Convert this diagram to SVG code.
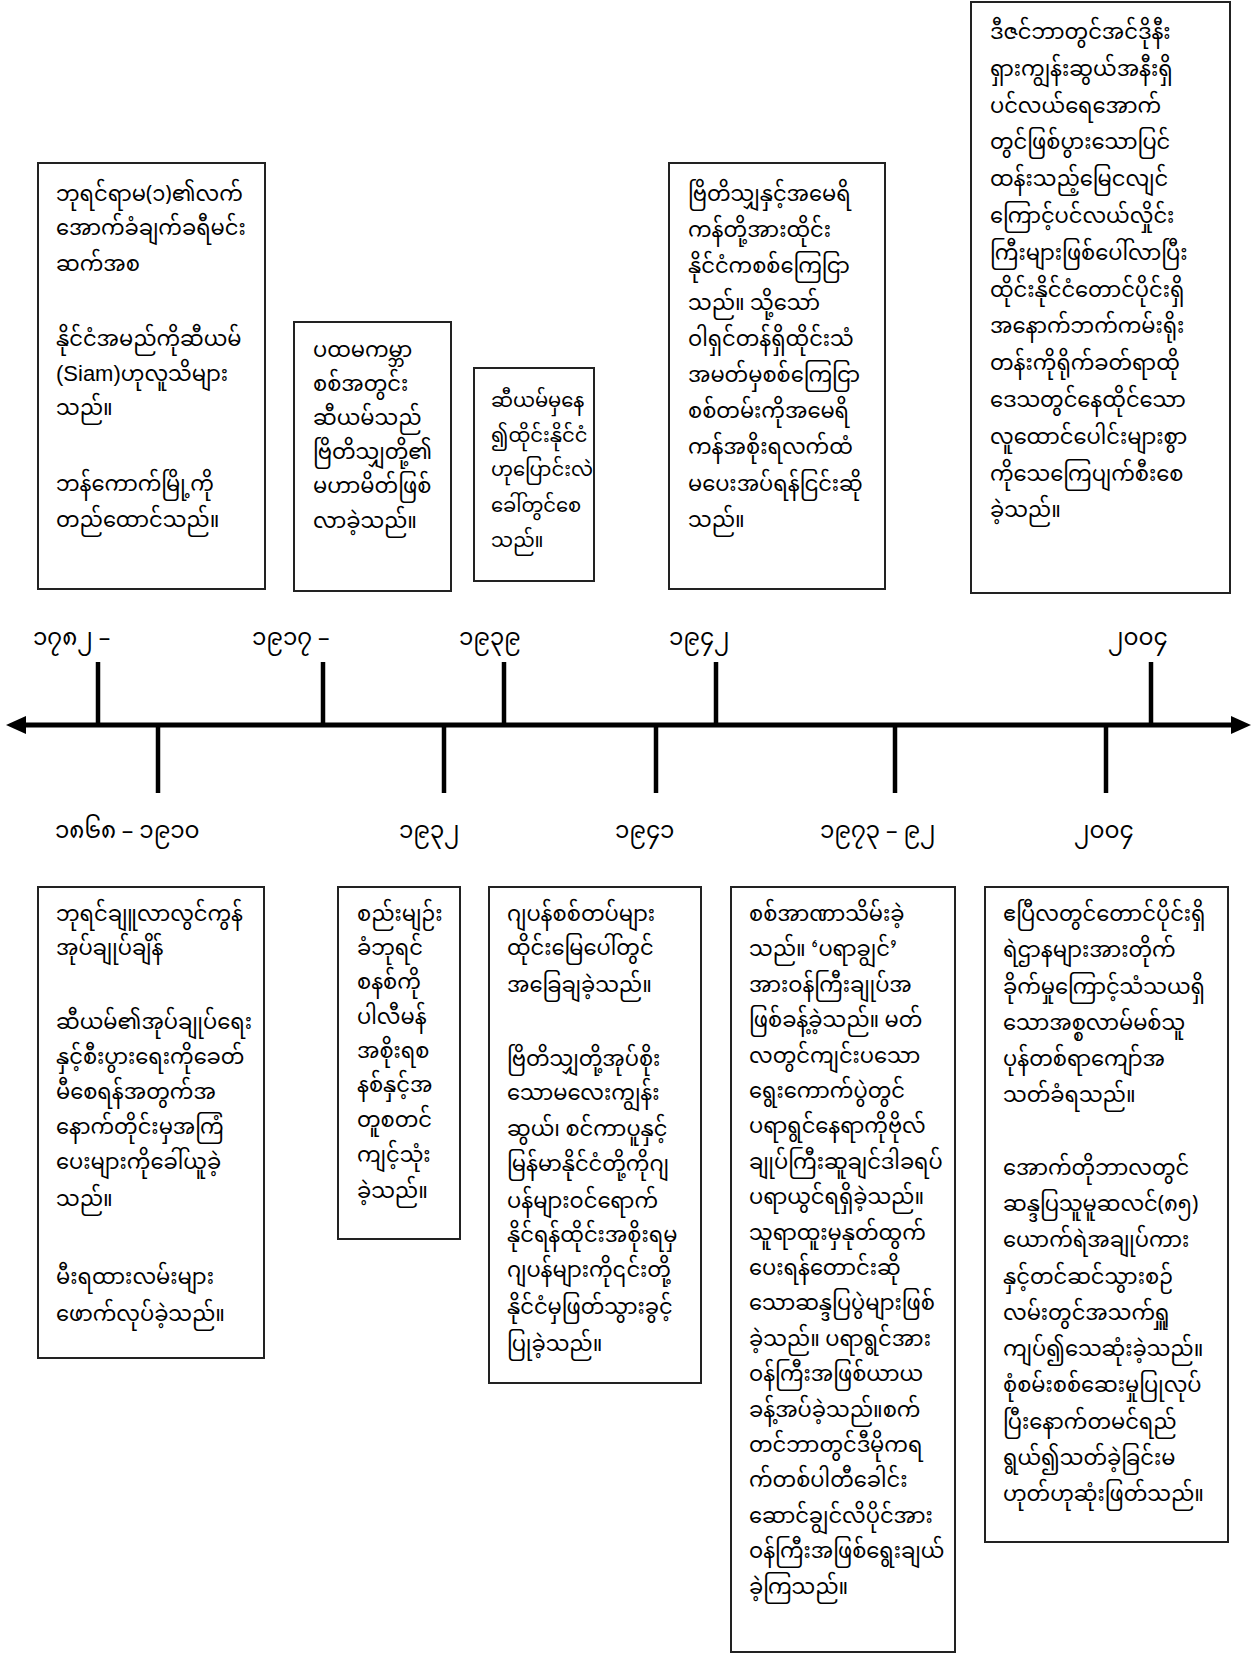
<svg xmlns="http://www.w3.org/2000/svg" width="1257" height="1654" viewBox="0 0 1257 1654">
<defs>
<style>
.box{fill:#fff;stroke:#222;stroke-width:2}
.t{font-family:"Noto Sans Myanmar","Padauk","Myanmar Text","Noto Sans","DejaVu Sans",sans-serif;font-size:21px;fill:#000}
.t20{font-size:19.5px}
.lat{font-family:"Liberation Sans",Arial,sans-serif;font-size:22px}
.lab{font-family:"Noto Sans Myanmar","Padauk","Myanmar Text","Noto Sans","DejaVu Sans",sans-serif;font-size:23px;fill:#000}
.tick{stroke:#000;stroke-width:4.5}
.axis{stroke:#000;stroke-width:5;fill:none}
</style>
<marker id="ah" viewBox="0 0 22 22" refX="2" refY="11" markerWidth="22" markerHeight="22" markerUnits="userSpaceOnUse" orient="auto-start-reverse">
<path d="M0,2 L20,11 L0,20 Z" fill="#000"/>
</marker>
</defs>
<rect width="1257" height="1654" fill="#fff"/>

<g id="connectors">
<line class="axis" x1="24" y1="725" x2="1233" y2="725" marker-start="url(#ah)" marker-end="url(#ah)"/>
<line class="tick" x1="98" y1="662" x2="98" y2="725"/>
<line class="tick" x1="323" y1="662" x2="323" y2="725"/>
<line class="tick" x1="504" y1="662" x2="504" y2="725"/>
<line class="tick" x1="716" y1="662" x2="716" y2="725"/>
<line class="tick" x1="1151" y1="662" x2="1151" y2="725"/>
<line class="tick" x1="158" y1="725" x2="158" y2="793"/>
<line class="tick" x1="444" y1="725" x2="444" y2="793"/>
<line class="tick" x1="656" y1="725" x2="656" y2="793"/>
<line class="tick" x1="895" y1="725" x2="895" y2="793"/>
<line class="tick" x1="1106" y1="725" x2="1106" y2="793"/>
</g>

<g id="label-1782"><text class="lab" x="33" y="645">၁၇၈၂ –</text></g>
<g id="label-1917"><text class="lab" x="252" y="645">၁၉၁၇ –</text></g>
<g id="label-1939"><text class="lab" x="459" y="645">၁၉၃၉</text></g>
<g id="label-1942"><text class="lab" x="669" y="645">၁၉၄၂</text></g>
<g id="label-2004-top"><text class="lab" x="1108" y="645">၂၀၀၄</text></g>
<g id="label-1868"><text class="lab" x="55" y="838">၁၈၆၈ – ၁၉၁၀</text></g>
<g id="label-1932"><text class="lab" x="399" y="838">၁၉၃၂</text></g>
<g id="label-1941"><text class="lab" x="615" y="838">၁၉၄၁</text></g>
<g id="label-1973"><text class="lab" x="820" y="838">၁၉၇၃ – ၉၂</text></g>
<g id="label-2004-bottom"><text class="lab" x="1074" y="838">၂၀၀၄</text></g>

<g id="box-1782">
<rect class="box" x="38" y="163" width="227" height="426"/>
<text class="t">
<tspan x="56" y="201">ဘုရင်ရာမ(၁)၏လက်</tspan>
<tspan x="56" y="235">အောက်ခံချက်ခရီမင်း</tspan>
<tspan x="56" y="271">ဆက်အစ</tspan>
<tspan x="56" y="346">နိုင်ငံအမည်ကိုဆီယမ်</tspan>
<tspan x="56" y="381"><tspan class="lat">(Siam)</tspan>ဟုလူသိများ</tspan>
<tspan x="56" y="415">သည်။</tspan>
<tspan x="56" y="491">ဘန်ကောက်မြို့ကို</tspan>
<tspan x="56" y="527">တည်ထောင်သည်။</tspan>
</text>
</g>

<g id="box-1917">
<rect class="box" x="294" y="322" width="157" height="269"/>
<text class="t">
<tspan x="313" y="357">ပထမကမ္ဘာ</tspan>
<tspan x="313" y="391">စစ်အတွင်း</tspan>
<tspan x="313" y="425">ဆီယမ်သည်</tspan>
<tspan x="313" y="459">ဗြိတိသျှတို့၏</tspan>
<tspan x="313" y="493">မဟာမိတ်ဖြစ်</tspan>
<tspan x="313" y="528">လာခဲ့သည်။</tspan>
</text>
</g>

<g id="box-1939">
<rect class="box" x="474" y="368" width="120" height="213"/>
<text class="t t20">
<tspan x="491" y="407">ဆီယမ်မှနေ</tspan>
<tspan x="491" y="442">၍ထိုင်းနိုင်ငံ</tspan>
<tspan x="491" y="476">ဟုပြောင်းလဲ</tspan>
<tspan x="491" y="512">ခေါ်တွင်စေ</tspan>
<tspan x="491" y="547">သည်။</tspan>
</text>
</g>

<g id="box-1942">
<rect class="box" x="669" y="163" width="216" height="426"/>
<text class="t">
<tspan x="688" y="201">ဗြိတိသျှနှင့်အမေရိ</tspan>
<tspan x="688" y="237">ကန်တို့အားထိုင်း</tspan>
<tspan x="688" y="273">နိုင်ငံကစစ်ကြေငြာ</tspan>
<tspan x="688" y="310">သည်။ သို့သော်</tspan>
<tspan x="688" y="346">ဝါရှင်တန်ရှိထိုင်းသံ</tspan>
<tspan x="688" y="382">အမတ်မှစစ်ကြေငြာ</tspan>
<tspan x="688" y="418">စစ်တမ်းကိုအမေရိ</tspan>
<tspan x="688" y="454">ကန်အစိုးရလက်ထံ</tspan>
<tspan x="688" y="491">မပေးအပ်ရန်ငြင်းဆို</tspan>
<tspan x="688" y="527">သည်။</tspan>
</text>
</g>

<g id="box-2004-top">
<rect class="box" x="971" y="2" width="259" height="591"/>
<text class="t">
<tspan x="990" y="39">ဒီဇင်ဘာတွင်အင်ဒိုနီး</tspan>
<tspan x="990" y="76">ရှားကျွန်းဆွယ်အနီးရှိ</tspan>
<tspan x="990" y="113">ပင်လယ်ရေအောက်</tspan>
<tspan x="990" y="149">တွင်ဖြစ်ပွားသောပြင်</tspan>
<tspan x="990" y="186">ထန်းသည့်မြေငလျင်</tspan>
<tspan x="990" y="223">ကြောင့်ပင်လယ်လှိုင်း</tspan>
<tspan x="990" y="260">ကြီးများဖြစ်ပေါ်လာပြီး</tspan>
<tspan x="990" y="297">ထိုင်းနိုင်ငံတောင်ပိုင်းရှိ</tspan>
<tspan x="990" y="333">အနောက်ဘက်ကမ်းရိုး</tspan>
<tspan x="990" y="370">တန်းကိုရိုက်ခတ်ရာထို</tspan>
<tspan x="990" y="407">ဒေသတွင်နေထိုင်သော</tspan>
<tspan x="990" y="444">လူထောင်ပေါင်းများစွာ</tspan>
<tspan x="990" y="481">ကိုသေကြေပျက်စီးစေ</tspan>
<tspan x="990" y="517">ခဲ့သည်။</tspan>
</text>
</g>

<g id="box-1868">
<rect class="box" x="38" y="887" width="226" height="471"/>
<text class="t">
<tspan x="56" y="921">ဘုရင်ချူလာလွင်ကွန်</tspan>
<tspan x="56" y="955">အုပ်ချုပ်ချိန်</tspan>
<tspan x="56" y="1029">ဆီယမ်၏အုပ်ချုပ်ရေး</tspan>
<tspan x="56" y="1064">နှင့်စီးပွားရေးကိုခေတ်</tspan>
<tspan x="56" y="1099">မီစေရန်အတွက်အ</tspan>
<tspan x="56" y="1134">နောက်တိုင်းမှအကြံ</tspan>
<tspan x="56" y="1169">ပေးများကိုခေါ်ယူခဲ့</tspan>
<tspan x="56" y="1206">သည်။</tspan>
<tspan x="56" y="1284">မီးရထားလမ်းများ</tspan>
<tspan x="56" y="1321">ဖောက်လုပ်ခဲ့သည်။</tspan>
</text>
</g>

<g id="box-1932">
<rect class="box" x="338" y="887" width="122" height="352"/>
<text class="t">
<tspan x="357" y="921">စည်းမျဉ်း</tspan>
<tspan x="357" y="955">ခံဘုရင်</tspan>
<tspan x="357" y="989">စနစ်ကို</tspan>
<tspan x="357" y="1024">ပါလီမန်</tspan>
<tspan x="357" y="1058">အစိုးရစ</tspan>
<tspan x="357" y="1092">နစ်နှင့်အ</tspan>
<tspan x="357" y="1127">တူစတင်</tspan>
<tspan x="357" y="1162">ကျင့်သုံး</tspan>
<tspan x="357" y="1198">ခဲ့သည်။</tspan>
</text>
</g>

<g id="box-1941">
<rect class="box" x="489" y="887" width="212" height="496"/>
<text class="t">
<tspan x="507" y="921">ဂျပန်စစ်တပ်များ</tspan>
<tspan x="507" y="955">ထိုင်းမြေပေါ်တွင်</tspan>
<tspan x="507" y="992">အခြေချခဲ့သည်။</tspan>
<tspan x="507" y="1066">ဗြိတိသျှတို့အုပ်စိုး</tspan>
<tspan x="507" y="1100">သောမလေးကျွန်း</tspan>
<tspan x="507" y="1136">ဆွယ်၊ စင်ကာပူနှင့်</tspan>
<tspan x="507" y="1171">မြန်မာနိုင်ငံတို့ကိုဂျ</tspan>
<tspan x="507" y="1208">ပန်များဝင်ရောက်</tspan>
<tspan x="507" y="1242">နိုင်ရန်ထိုင်းအစိုးရမှ</tspan>
<tspan x="507" y="1277">ဂျပန်များကို၎င်းတို့</tspan>
<tspan x="507" y="1314">နိုင်ငံမှဖြတ်သွားခွင့်</tspan>
<tspan x="507" y="1351">ပြုခဲ့သည်။</tspan>
</text>
</g>

<g id="box-1973">
<rect class="box" x="731" y="887" width="224" height="765"/>
<text class="t">
<tspan x="749" y="921">စစ်အာဏာသိမ်းခဲ့</tspan>
<tspan x="749" y="956">သည်။ ‘ပရာချွင်’</tspan>
<tspan x="749" y="992">အားဝန်ကြီးချုပ်အ</tspan>
<tspan x="749" y="1027">ဖြစ်ခန့်ခဲ့သည်။ မတ်</tspan>
<tspan x="749" y="1063">လတွင်ကျင်းပသော</tspan>
<tspan x="749" y="1098">ရွေးကောက်ပွဲတွင်</tspan>
<tspan x="749" y="1133">ပရာရွင်နေရာကိုဗိုလ်</tspan>
<tspan x="749" y="1169">ချုပ်ကြီးဆူချင်ဒါခရပ်</tspan>
<tspan x="749" y="1204">ပရာယွင်ရရှိခဲ့သည်။</tspan>
<tspan x="749" y="1240">သူရာထူးမှနုတ်ထွက်</tspan>
<tspan x="749" y="1275">ပေးရန်တောင်းဆို</tspan>
<tspan x="749" y="1310">သောဆန္ဒပြပွဲများဖြစ်</tspan>
<tspan x="749" y="1346">ခဲ့သည်။ ပရာရွင်အား</tspan>
<tspan x="749" y="1381">ဝန်ကြီးအဖြစ်ယာယ</tspan>
<tspan x="749" y="1417">ခန့်အပ်ခဲ့သည်။စက်</tspan>
<tspan x="749" y="1452">တင်ဘာတွင်ဒီမိုကရ</tspan>
<tspan x="749" y="1487">က်တစ်ပါတီခေါင်း</tspan>
<tspan x="749" y="1523">ဆောင်ချွင်လိပိုင်အား</tspan>
<tspan x="749" y="1558">ဝန်ကြီးအဖြစ်ရွေးချယ်</tspan>
<tspan x="749" y="1594">ခဲ့ကြသည်။</tspan>
</text>
</g>

<g id="box-2004-bottom">
<rect class="box" x="985" y="887" width="243" height="655"/>
<text class="t">
<tspan x="1003" y="921">ဧပြီလတွင်တောင်ပိုင်းရှိ</tspan>
<tspan x="1003" y="957">ရဲဌာနများအားတိုက်</tspan>
<tspan x="1003" y="994">ခိုက်မှုကြောင့်သံသယရှိ</tspan>
<tspan x="1003" y="1030">သောအစ္စလာမ်မစ်သူ</tspan>
<tspan x="1003" y="1066">ပုန်တစ်ရာကျော်အ</tspan>
<tspan x="1003" y="1102">သတ်ခံရသည်။</tspan>
<tspan x="1003" y="1175">အောက်တိုဘာလတွင်</tspan>
<tspan x="1003" y="1211">ဆန္ဒပြသူမူဆလင်(၈၅)</tspan>
<tspan x="1003" y="1247">ယောက်ရဲအချုပ်ကား</tspan>
<tspan x="1003" y="1284">နှင့်တင်ဆင်သွားစဉ်</tspan>
<tspan x="1003" y="1320">လမ်းတွင်အသက်ရှူ</tspan>
<tspan x="1003" y="1356">ကျပ်၍သေဆုံးခဲ့သည်။</tspan>
<tspan x="1003" y="1392">စုံစမ်းစစ်ဆေးမှုပြုလုပ်</tspan>
<tspan x="1003" y="1429">ပြီးနောက်တမင်ရည်</tspan>
<tspan x="1003" y="1465">ရွယ်၍သတ်ခဲ့ခြင်းမ</tspan>
<tspan x="1003" y="1501">ဟုတ်ဟုဆုံးဖြတ်သည်။</tspan>
</text>
</g>
</svg>
